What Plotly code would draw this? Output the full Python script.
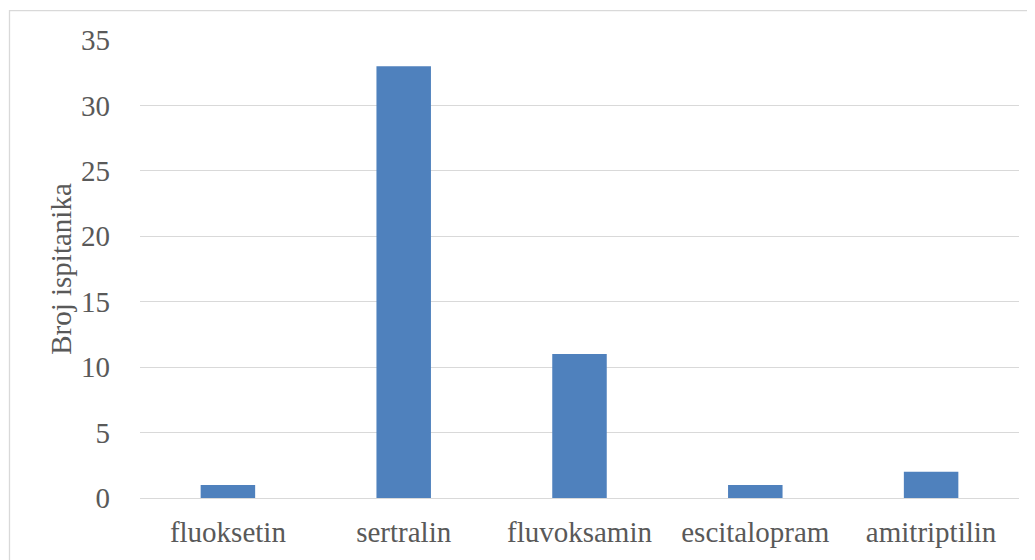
import plotly.graph_objects as go

categories = ["fluoksetin", "sertralin", "fluvoksamin", "escitalopram", "amitriptilin"]
values = [1, 33, 11, 1, 2]
y_ticks = [0, 5, 10, 15, 20, 25, 30, 35]
y_title = "Broj ispitanika"

# page body has an 8px margin; compensate so the figure fills the window
OFF = 8
W, H = 1035 - OFF, 560 - OFF
L, R, T, B = 140 - OFF, 16, 40 - OFF, 60
pw, ph = W - L - R, H - T - B

def px_x(px):
    return (px - OFF - L) / pw

def px_y(py):
    return (H - B - (py - OFF)) / ph

fig = go.Figure(go.Bar(
    x=categories, y=values,
    marker=dict(color="#4F81BD", line=dict(width=0)),
    width=0.31,
))

fig.update_layout(
    width=W, height=H,
    margin=dict(l=L, r=R, t=T, b=B),
    paper_bgcolor="white", plot_bgcolor="white",
    font=dict(family="Liberation Serif, Times New Roman, serif", size=29, color="#595959"),
    showlegend=False,
    xaxis=dict(showgrid=False, showline=True, linecolor="#D9D9D9", linewidth=1.3,
               ticks="", tickfont=dict(size=29), ticklabelstandoff=8),
    yaxis=dict(range=[0, 35], tickvals=y_ticks, showgrid=True, gridcolor="#D9D9D9",
               gridwidth=1.3, zeroline=False, showline=False, ticks="",
               tickfont=dict(size=29), ticklabelstandoff=29,
               title=dict(text=y_title, font=dict(size=29), standoff=0)),
    shapes=[dict(type="rect", xref="paper", yref="paper",
                 x0=px_x(9.5), x1=px_x(1045), y0=px_y(570), y1=px_y(10.5),
                 line=dict(color="#D9D9D9", width=1.3), fillcolor="rgba(0,0,0,0)",
                 layer="below")],
)

fig.write_html("out.html")
